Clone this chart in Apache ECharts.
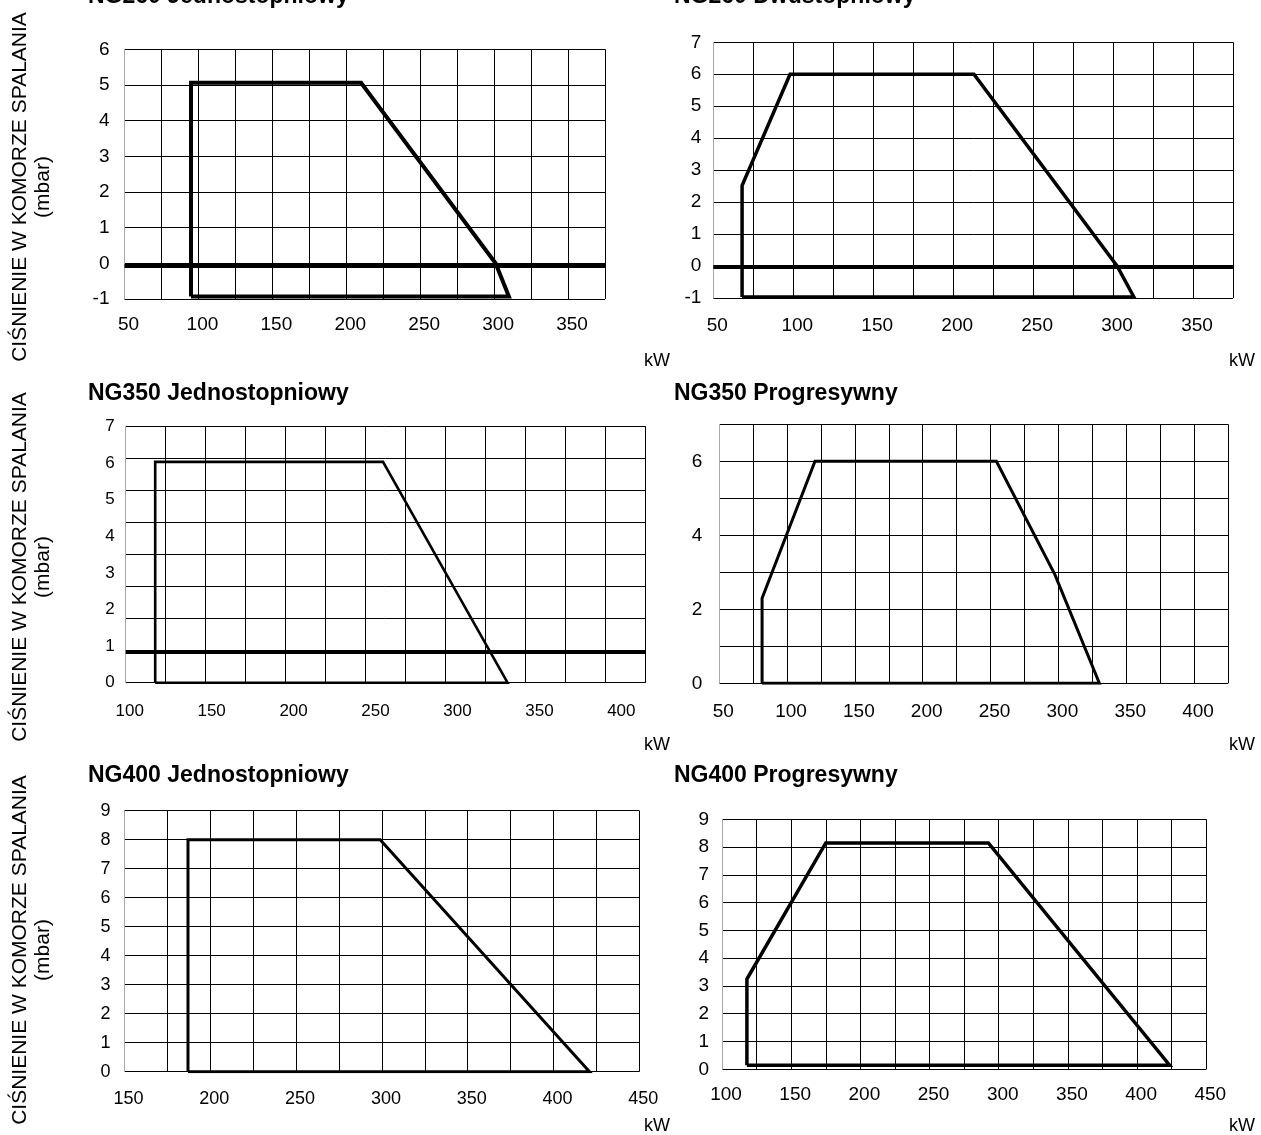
<!DOCTYPE html>
<html><head><meta charset="utf-8">
<script src="https://cdn.jsdelivr.net/npm/echarts@6/dist/echarts.min.js"></script>
<style>html,body{margin:0;padding:0;background:#fff}#c{width:1261px;height:1135px}</style>
</head><body><div id="c"></div>
<script>
// ---------- DATA ----------
const titles = ['NG260 Jednostopniowy','NG260 Dwustopniowy','NG350 Jednostopniowy','NG350 Progresywny','NG400 Jednostopniowy','NG400 Progresywny'];
const yTitle = 'CIŚNIENIE W KOMORZE SPALANIA\n(mbar)';
const xUnit = 'kW';

// NG260 Jednostopniowy
const kw260j   = [95, 95, 210, 301, 310, 95];
const mbar260j = [-0.93, 5.06, 5.06, 0, -0.93, -0.93];
const ref260j  = -0.07;
const xTicks260j = [50,100,150,200,250,300,350];
const yTicks260j = [-1,0,1,2,3,4,5,6];

// NG260 Dwustopniowy
const kw260d   = [68, 68, 98, 213, 302.5, 313, 68];
const mbar260d = [-0.97, 2.52, 6, 6, 0, -0.97, -0.97];
const ref260d  = -0.03;
const xTicks260d = [50,100,150,200,250,300,350];
const yTicks260d = [-1,0,1,2,3,4,5,6,7];

// NG350 Jednostopniowy
const kw350j   = [118, 118, 257, 333, 118];
const mbar350j = [0, 6.03, 6.03, 0, 0];
const ref350j  = 0.85;
const xTicks350j = [100,150,200,250,300,350,400];
const yTicks350j = [0,1,2,3,4,5,6,7];

// NG350 Progresywny
const kw350p   = [81.6, 81.6, 120.6, 254.3, 297.5, 330.2, 81.6];
const mbar350p = [0, 2.3, 6, 6, 2.93, 0, 0];
const xTicks350p = [50,100,150,200,250,300,350,400];
const yTicks350p = [0,2,4,6];

// NG400 Jednostopniowy
const kw400j   = [187, 187, 299, 421, 187];
const mbar400j = [0, 8, 8, 0, 0];
const xTicks400j = [150,200,250,300,350,400,450];
const yTicks400j = [0,1,2,3,4,5,6,7,8,9];

// NG400 Progresywny
const kw400p   = [118, 118, 175, 292.5, 423.5, 118];
const mbar400p = [0.15, 3.25, 8.15, 8.15, 0.15, 0.15];
const xTicks400p = [100,150,200,250,300,350,400,450];
const yTicks400p = [0,1,2,3,4,5,6,7,8,9];

// ---------- LAYOUT ----------
const FONT = '"Liberation Sans", Arial, Helvetica, sans-serif';
const panels = [
  {xs:kw260j, ys:mbar260j, ref:ref260j, xt:xTicks260j, yt:yTicks260j, xMax:375, yMax:6, cells:[13,7], box:[124.5,49.3,480.5,249.7], lw:4, fs:19, xm:16, ym:15},
  {xs:kw260d, ys:mbar260d, ref:ref260d, xt:xTicks260d, yt:yTicks260d, xMax:375, yMax:7, cells:[13,8], box:[713.3,42.3,519.7,255.7], lw:3.5, fs:19, xm:18, ym:12},
  {xs:kw350j, ys:mbar350j, ref:ref350j, xt:xTicks350j, yt:yTicks350j, xMax:417.3, yMax:7, cells:[13,8], box:[125.7,426.3,520,256.4], lw:2.6, fs:17, xm:20, ym:11},
  {xs:kw350p, ys:mbar350p, ref:null, xt:xTicks350p, yt:yTicks350p, xMax:425, yMax:7, cells:[15,7], box:[719.2,424.3,508.8,259], lw:3, fs:19, xm:19, ym:17},
  {xs:kw400j, ys:mbar400j, ref:null, xt:xTicks400j, yt:yTicks400j, xMax:450, yMax:9, cells:[12,9], box:[124.5,810.7,514.8,261], lw:3, fs:18, xm:18, ym:14},
  {xs:kw400p, ys:mbar400p, ref:null, xt:xTicks400p, yt:yTicks400p, xMax:450, yMax:9, cells:[14,9], box:[722,819.3,484.3,250], lw:3.5, fs:19, xm:16, ym:13}
];

const grids = [], xAxes = [], yAxes = [], series = [];
const fmt = ticks => v => ticks.some(t => Math.abs(t - v) < 1e-6) ? String(v) : '';

panels.forEach((p, i) => {
  grids.push({left:p.box[0], top:p.box[1], width:p.box[2], height:p.box[3], containLabel:false, show:false});
  // value (label) axes
  xAxes.push({gridIndex:i, type:'value', position:'bottom', min:p.xt[0], max:p.xMax, interval:p.xt[1]-p.xt[0],
    axisLine:{show:false}, axisTick:{show:false}, splitLine:{show:false},
    axisLabel:{formatter:fmt(p.xt), color:'#000', fontSize:p.fs, fontFamily:FONT, margin:p.xm, padding:[0,0,0,8], hideOverlap:false}});
  yAxes.push({gridIndex:i, type:'value', position:'left', min:p.yt[0], max:p.yMax, interval:p.yt[1]-p.yt[0],
    axisLine:{show:false, onZero:false}, axisTick:{show:false}, splitLine:{show:false},
    axisLabel:{formatter:fmt(p.yt), color:'#000', fontSize:p.fs, fontFamily:FONT, margin:p.ym, hideOverlap:false}});
  // grid (cell) axes
  xAxes.push({gridIndex:i, type:'value', position:'bottom', min:0, max:p.cells[0], interval:1,
    axisLine:{show:false, onZero:false}, axisTick:{show:false}, axisLabel:{show:false},
    splitLine:{show:true, showMinLine:false, lineStyle:{color:'#000', width:1}}});
  yAxes.push({gridIndex:i, type:'value', position:'left', min:0, max:p.cells[1], interval:1,
    axisLine:{show:true, onZero:false, lineStyle:{color:'#a8a8a8', width:1}}, axisTick:{show:false}, axisLabel:{show:false},
    splitLine:{show:true, lineStyle:{color:'#000', width:1}}});
  const s = {type:'line', xAxisIndex:2*i, yAxisIndex:2*i, data:p.xs.map((x,k)=>[x,p.ys[k]]),
    symbol:'none', silent:true, z:5, lineStyle:{color:'#000', width:p.lw, join:'miter'}};
  if (p.ref !== null) {
    s.markLine = {silent:true, symbol:['none','none'], label:{show:false}, animation:false,
      lineStyle:{color:'#000', width:4, type:'solid'}, data:[{yAxis:p.ref}]};
  }
  series.push(s);
});

const graphic = [];
const tPos = [[88,-3.5],[674,-3.5],[88,394],[674,394],[88,776],[674,776]];
titles.forEach((t,i)=>graphic.push({type:'text', x:tPos[i][0], y:tPos[i][1], silent:true,
  style:{text:t, fill:'#000', font:'bold 23px '+FONT, align:'left', verticalAlign:'middle'}}));
[187,567,950].forEach(cy=>graphic.push({type:'text', x:32, y:cy, rotation:Math.PI/2, silent:true,
  style:{text:yTitle, fill:'#000', font:'21px '+FONT, lineHeight:23, align:'center', verticalAlign:'middle'}}));
[[657,361],[1242,361],[657,745],[1242,745],[657,1126],[1242,1126]].forEach(q=>graphic.push({type:'text', x:q[0], y:q[1], silent:true,
  style:{text:xUnit, fill:'#000', font:'18px '+FONT, align:'center', verticalAlign:'middle'}}));

const chart = echarts.init(document.getElementById('c'), null, {renderer:'canvas'});
chart.setOption({animation:false, backgroundColor:'#fff', grid:grids, xAxis:xAxes, yAxis:yAxes, series:series, graphic:graphic});
</script></body></html>
